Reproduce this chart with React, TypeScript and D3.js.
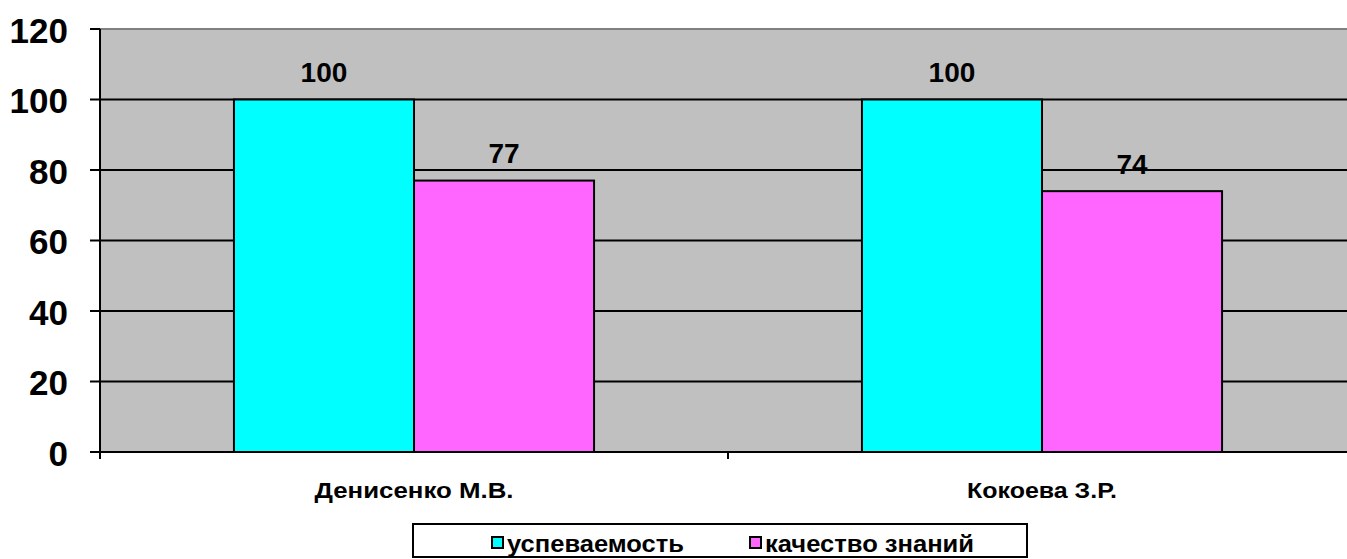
import React from "react";
import * as d3 from "d3";

// chart data
const teachers = ["Денисенко М.В.", "Кокоева З.Р."];
const teacherLabelWidth = [199, 150];
const seriesNames = ["успеваемость", "качество знаний"];
const uspevaemost = [100, 100];
const kachestvo = [77, 74];
const yTicks = [0, 20, 40, 60, 80, 100, 120];
const colors = ["#00ffff", "#ff66ff"];

const W = 1347;
const H = 559;
const margin = { top: 29, left: 100, bottom: 452, right: 1356 };

const App = () => {
  const x = d3.scaleBand().domain(teachers).range([margin.left, margin.right]);
  const inner = d3
    .scaleBand()
    .domain(seriesNames)
    .range([0, x.bandwidth()])
    .paddingInner(0)
    .paddingOuter(0.744);
  const y = d3.scaleLinear().domain([0, 120]).range([margin.bottom, margin.top]);

  const values = [uspevaemost, kachestvo];
  const font = "Arial, 'Liberation Sans', sans-serif";

  // legend layout (square x, text width)
  const legendX = [492, 750];
  const legendW = [177, 209];

  return (
    <svg width={W} height={H} style={{ position: "absolute", left: 0, top: 0 }}>
      <rect x={0} y={0} width={W} height={H} fill="#fff" />
      {/* plot area */}
      <rect x={margin.left} y={y(120)} width={W - margin.left} height={y(0) - y(120)} fill="#c0c0c0" />
      <line x1={margin.left} x2={W} y1={y(120)} y2={y(120)} stroke="#808080" strokeWidth={2} />
      {yTicks.filter((t) => t > 0 && t < 120).map((t) => (
        <line key={t} x1={margin.left} x2={W} y1={y(t)} y2={y(t)} stroke="#000" strokeWidth={2} />
      ))}

      {/* bars */}
      {teachers.map((tch, ci) =>
        seriesNames.map((s, si) => {
          const bx = (x(tch) ?? 0) + (inner(s) ?? 0);
          const v = values[si][ci];
          return (
            <g key={tch + s}>
              <rect
                x={bx}
                y={y(v)}
                width={inner.bandwidth()}
                height={y(0) - y(v)}
                fill={colors[si]}
                stroke="#000"
                strokeWidth={2}
              />
              <text
                x={bx + inner.bandwidth() / 2}
                y={y(v) - 27}
                textAnchor="middle"
                dominantBaseline="central"
                fontFamily={font}
                fontWeight="bold"
                fontSize={28}
              >
                {v}
              </text>
            </g>
          );
        })
      )}

      {/* y axis */}
      <line x1={margin.left} x2={margin.left} y1={y(120)} y2={y(0) + 7} stroke="#000" strokeWidth={2} />
      {yTicks.map((t) => (
        <g key={t}>
          <line x1={90} x2={margin.left} y1={y(t)} y2={y(t)} stroke="#000" strokeWidth={2} />
          <text
            x={68}
            y={y(t) + 1}
            textAnchor="end"
            dominantBaseline="central"
            fontFamily={font}
            fontWeight="bold"
            fontSize={35}
          >
            {t}
          </text>
        </g>
      ))}

      {/* x axis */}
      <line x1={margin.left} x2={W} y1={y(0)} y2={y(0)} stroke="#000" strokeWidth={2} />
      {teachers.map((tch, i) => (
        <g key={tch}>
          {i > 0 && (
            <line x1={x(tch)} x2={x(tch)} y1={y(0)} y2={y(0) + 7} stroke="#000" strokeWidth={2} />
          )}
          <text
            x={(x(tch) ?? 0) + x.bandwidth() / 2}
            y={490}
            textAnchor="middle"
            dominantBaseline="central"
            fontFamily={font}
            fontWeight="bold"
            fontSize={22}
            textLength={teacherLabelWidth[i]}
            lengthAdjust="spacingAndGlyphs"
          >
            {tch}
          </text>
        </g>
      ))}

      {/* legend */}
      <rect x={413} y={524} width={614} height={33} fill="#fff" stroke="#000" strokeWidth={2} />
      {seriesNames.map((s, i) => {
        const lx = legendX[i];
        return (
          <g key={s}>
            <rect x={lx} y={537} width={11} height={11} fill={colors[i]} stroke="#000" strokeWidth={2} />
            <text
              x={lx + 15}
              y={543}
              dominantBaseline="central"
              fontFamily={font}
              fontWeight="bold"
              fontSize={24}
              textLength={legendW[i]}
              lengthAdjust="spacingAndGlyphs"
            >
              {s}
            </text>
          </g>
        );
      })}
    </svg>
  );
};

export default App;
